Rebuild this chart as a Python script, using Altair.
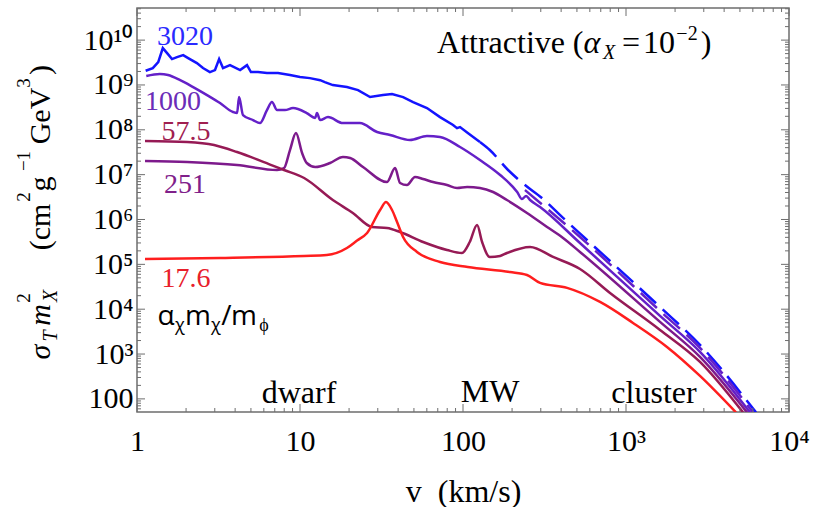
import math
import altair as alt
import pandas as pd

SERIF = "Liberation Serif"
SANS = "Open Sans"
X0, Y0 = 137, 8          # plot-area origin on the page
W, H = 652, 404          # plot-area size
FRAME = "#6e6e6e"

# ---------------- data ----------------
series_names = ["3020", "1000", "251", "57.5", "17.6"]
series_colors = ["#1414ff", "#6420c8", "#7d1a8c", "#961a55", "#ff1e1e"]
label_colors = ["#2a2aff", "#6a2cb8", "#80208a", "#a02050", "#e8202a"]

v_3020 = [1.13, 1.25, 1.35, 1.44, 1.53, 1.64, 1.76, 1.92, 2.06, 2.33, 2.54, 2.80, 3.01, 3.19, 3.37, 3.72,
          4.29, 4.73, 5.0, 5.53, 6.27, 7.33, 8.68, 10.0, 11.5, 13.3, 14.2, 15.9, 19.4, 22.7, 26.9, 32.3,
          36.7, 42.9, 49.4, 60.1, 72.3, 86.9, 91.9, 95.9, 107, 127]
s_3020 = [2.07e9, 2.38e9, 3.23e9, 6.63e9, 5.13e9, 3.77e9, 4.18e9, 4.63e9, 3.97e9, 3.07e9, 2.38e9, 1.94e9,
          2.15e9, 3.77e9, 2.38e9, 2.77e9, 2.15e9, 2.77e9, 1.94e9, 1.94e9, 1.84e9, 1.84e9, 1.66e9, 1.50e9,
          1.42e9, 1.28e9, 1.16e9, 9.94e8, 8.97e8, 7.69e8, 5.37e8, 5.95e8, 6.26e8, 5.37e8, 4.15e8, 3.05e8,
          1.92e8, 1.28e8, 1.09e8, 1.15e8, 8.47e7, 5.33e7]
v_3020_dash = [127, 146, 189, 240, 305, 405, 577, 1617, 2844, 6274]
s_3020_dash = [5.33e7, 3.54e7, 1.27e7, 5.87e6, 3.01e6, 1.14e6, 3.49e5, 1.12e4, 1.60e3, 50]

v_1000 = [1.14, 1.38, 1.55, 1.84, 2.21, 2.69, 3.23, 3.88, 4.11, 4.23, 4.47, 5.15, 5.68, 6.27, 6.73, 7.23,
          8.09, 9.06, 11.0, 12.4, 12.7, 13.3, 14.85, 18.35, 23.3, 29.7, 35.7, 47.3, 60.1, 72.3, 95.9, 127,
          169, 215, 230, 244, 258, 297, 522, 1617, 2844, 5764]
s_1000 = [1.58e9, 1.75e9, 1.66e9, 1.28e9, 8.97e8, 5.95e8, 3.95e8, 2.49e8, 2.36e8, 5.37e8, 2.13e8, 1.65e8,
          1.41e8, 2.75e8, 4.15e8, 2.75e8, 2.75e8, 3.05e8, 2.36e8, 1.83e8, 2.36e8, 1.65e8, 1.92e8, 1.41e8,
          1.41e8, 8.91e7, 7.64e7, 5.91e7, 7.26e7, 6.89e7, 4.13e7, 2.12e7, 9.81e6, 4.10e6, 2.86e6, 3.34e6,
          2.72e6, 1.90e6, 2.99e5, 7.07e3, 1.12e3, 50]
v_1000_dash = [240, 522, 1617, 2844, 6013]
s_1000_dash = [4.54e6, 4.07e5, 9.14e3, 1.37e3, 50]

v_251 = [1.12, 2.03, 4.11, 7.23, 7.98, 8.68, 9.45, 10.3, 11.0, 12.4, 15.3, 18.35, 20.3, 24.35, 34.2, 38.3,
         41.1, 45.3, 50.8, 56.9, 65.5, 79.8, 91.9, 106, 127, 153, 186, 247, 328, 411, 522, 1617, 2844, 5524]
s_251 = [2.01e7, 1.91e7, 1.64e7, 1.27e7, 1.40e7, 3.54e7, 8.47e7, 3.03e7, 1.82e7, 1.48e7, 1.82e7, 2.47e7,
         2.35e7, 1.48e7, 6.85e6, 1.40e7, 6.51e6, 5.87e6, 8.85e6, 7.99e6, 6.85e6, 5.87e6, 5.04e6, 5.30e6,
         5.04e6, 4.10e6, 2.72e6, 1.40e6, 6.81e5, 3.87e5, 1.89e5, 5.20e3, 863, 50]

v_575 = [1.12, 2.03, 2.97, 4.11, 6.01, 7.98, 10.6, 15.9, 21.1, 27.65, 34.2, 41.1, 56.9, 79.8, 98.6, 110,
         122, 131, 146, 169, 186, 258, 357, 522, 798, 1617, 2844, 5222]
s_575 = [5.62e7, 5.33e7, 4.57e7, 3.19e7, 1.91e7, 1.27e7, 8.41e6, 2.72e6, 1.40e6, 6.81e5, 6.47e5, 5.27e5,
         3.15e5, 2.09e5, 1.79e5, 3.15e5, 7.54e5, 3.15e5, 1.46e5, 1.54e5, 1.79e5, 2.44e5, 1.46e5, 7.89e4,
         2.30e4, 3.45e3, 668, 50]

v_176 = [1.12, 3.23, 10.6, 14.6, 19.4, 22.4, 25.8, 31.0, 33.7, 36.7, 39.4, 42.9, 52.2, 72.3, 107, 194, 247,
         297, 435, 693, 1104, 1784, 2844, 4729]
s_176 = [1.32e5, 1.39e5, 1.54e5, 1.62e5, 2.32e5, 3.4e5, 5.00e5, 1.63e6, 2.45e6, 1.63e6, 8.8e5, 4.07e5,
         1.89e5, 1.13e5, 8.74e4, 6.76e4, 5.80e4, 3.85e4, 2.98e4, 1.45e4, 4.94e3, 1.44e3, 325, 50]

x_major = [1, 10, 100, 1000, 10000]
y_major = [10 ** k for k in range(2, 11)]
x_minor = [m * 10 ** k for k in range(0, 4) for m in range(2, 10)]
y_minor = [m * 10 ** k for k in range(1, 11) for m in range(2, 10) if 51 <= m * 10 ** k <= 5.2e10]

# ---------------- tables ----------------
def table(pairs):
    rows = []
    for name, vs, ss in pairs:
        rows += [{"series": name, "v": a, "s": b} for a, b in zip(vs, ss)]
    return pd.DataFrame(rows)

jagged = table([("3020", v_3020, s_3020)])
smooth = table([("1000", v_1000, s_1000), ("251", v_251, s_251),
                ("57.5", v_575, s_575), ("17.6", v_176, s_176)])
dashed = table([("3020", v_3020_dash, s_3020_dash), ("1000", v_1000_dash, s_1000_dash)])

SUP = str.maketrans("0123456789-", "⁰¹²³⁴⁵⁶⁷⁸⁹⁻")


def lab(v):
    k = round(math.log10(v))
    return str(int(v)) if k <= 2 else "10" + str(k).translate(SUP)


def label_expr(vals):
    return "".join(f"datum.value < {v * 1.5:g} ? '{lab(v)}' : " for v in vals) + "''"


xs = alt.Scale(type="log", domain=[1, 10000], nice=False)
ys = alt.Scale(type="log", domain=[51, 5.2e10], nice=False)
cs = alt.Scale(domain=series_names, range=series_colors)

x_axis = alt.Axis(values=x_major, labelExpr=label_expr(x_major), grid=False, ticks=False, domain=False,
                  labelFont=SERIF, labelFontSize=30, labelColor="black", labelPadding=14,
                  labelFlush=False, labelOverlap=False,
                  title="v\u00a0\u00a0(km/s)", titleFont=SERIF, titleFontSize=32, titleFontWeight="normal",
                  titleColor="black", titleBaseline="alphabetic", titleY=89, titleAnchor="middle")
y_axis = alt.Axis(values=y_major, labelExpr=label_expr(y_major), grid=False, ticks=False, domain=False,
                  labelFont=SERIF, labelFontSize=30, labelColor="black", labelPadding=4,
                  labelAlign="right", labelBaseline="middle", labelOverlap=False, title=None)

X = alt.X("v:Q", scale=xs, axis=x_axis)
Y = alt.Y("s:Q", scale=ys, axis=y_axis)
C = alt.Color("series:N", scale=cs, legend=None)

line_jag = alt.Chart(jagged).mark_line(strokeWidth=2.5, clip=True).encode(x=X, y=Y, color=C)
line_smooth = alt.Chart(smooth).mark_line(strokeWidth=2.5, clip=True, interpolate="monotone").encode(
    x=X, y=Y, color=C)
line_dash = alt.Chart(dashed).mark_line(strokeWidth=2.5, strokeDash=[22, 9], clip=True,
                                        interpolate="monotone").encode(x=X, y=Y, color=C)


def xticks(vals, size):
    d = alt.Chart(pd.DataFrame({"v": vals}))
    bot = d.mark_rule(color=FRAME, strokeWidth=1).encode(x=X, y=alt.value(H), y2=alt.value(H - size))
    top = d.mark_rule(color=FRAME, strokeWidth=1).encode(x=X, y=alt.value(0), y2=alt.value(size))
    return [bot, top]


def yticks(vals, size):
    d = alt.Chart(pd.DataFrame({"s": vals}))
    left = d.mark_rule(color=FRAME, strokeWidth=1).encode(y=Y, x=alt.value(0), x2=alt.value(size))
    right = d.mark_rule(color=FRAME, strokeWidth=1).encode(y=Y, x=alt.value(W), x2=alt.value(W - size))
    return [left, right]


def note(s, x, y, size, color="black", font=SERIF, italic=False, angle=0, align="center"):
    kw = dict(text=s, font=font, fontSize=size, color=color, align=align, baseline="alphabetic")
    if italic:
        kw["fontStyle"] = "italic"
    if angle:
        kw["angle"] = angle
    return alt.Chart(alt.Data(values=[{"k": 0}])).mark_text(**kw).encode(
        x=alt.value(x - X0), y=alt.value(y - Y0))


notes = [
    # panel title
    note("Attractive", 501, 53, 32), note("(", 578, 53, 32), note("α", 592, 53, 32, italic=True),
    note("X", 609, 59, 20, italic=True), note("=", 631, 53, 32), note("10", 659, 53, 32),
    note("−2", 687, 40, 20), note(")", 706, 53, 32),
    # curve labels
    note("3020", 185, 45, 28, label_colors[0]), note("1000", 173, 110, 28, label_colors[1]),
    note("57.5", 186, 140, 28, label_colors[3]), note("251", 185, 193, 28, label_colors[2]),
    note("17.6", 186, 287, 28, label_colors[4]),
    # alpha m / m
    note("α", 166, 325, 28, font=SANS), note("χ", 180, 331, 18, font=SANS), note("m", 198, 325, 28, font=SANS),
    note("χ", 216, 331, 18, font=SANS), note("/", 226.5, 325, 28, font=SANS), note("m", 244, 325, 28, font=SANS),
    note("ϕ", 264, 331, 18, font=SANS),
    # regimes
    note("dwarf", 299, 403, 32), note("MW", 490, 402, 32), note("cluster", 654, 403, 32),
    # y-axis title
    note("σ", 50, 352, 30, italic=True, angle=270), note("T", 57, 336, 20, italic=True, angle=270),
    note("m", 50, 315, 30, italic=True, angle=270), note("2", 30, 298, 19, angle=270),
    note("X", 57, 296, 20, italic=True, angle=270), note("(cm", 50, 227, 30, angle=270),
    note("2", 30, 197, 19, angle=270), note("g", 50, 184, 30, angle=270),
    note("−1", 30, 161, 19, angle=270), note("GeV", 50, 116, 30, angle=270),
    note("3", 30, 83, 19, angle=270), note(")", 50, 70, 30, angle=270),
]

layers = [line_jag, line_smooth, line_dash] + xticks(x_major, 8) + xticks(x_minor, 4) + \
    yticks(y_major, 8) + yticks(y_minor, 4) + notes

chart = alt.layer(*layers).properties(
    width=W, height=H,
    autosize=alt.AutoSizeParams(type="none"),
    padding={"left": X0, "top": Y0, "right": 825 - X0 - W, "bottom": 507 - Y0 - H},
    background="white",
).configure_view(stroke=FRAME, strokeWidth=1.5)

chart.save("out.html", embed_options={"renderer": "svg", "actions": False})
